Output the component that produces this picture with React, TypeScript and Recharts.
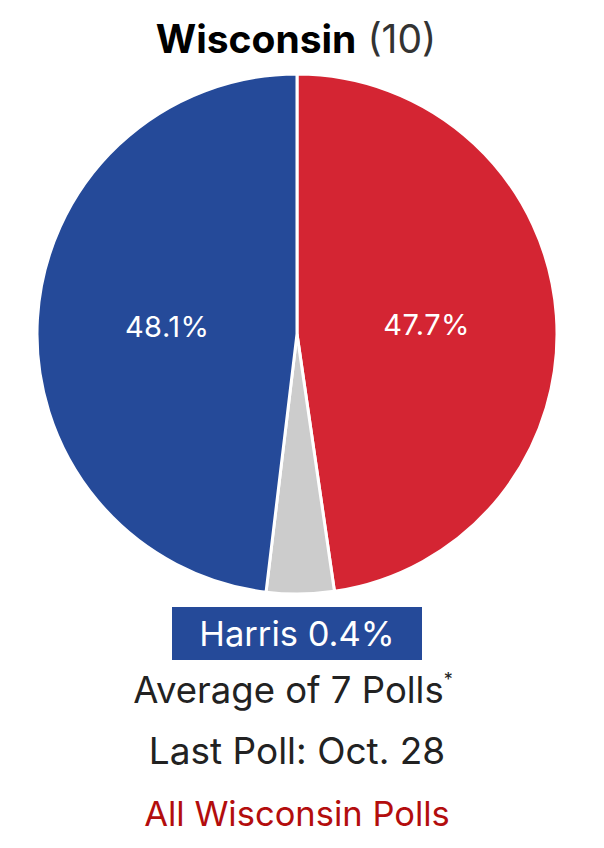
import React from "react"
import { PieChart, Pie, Cell } from "recharts"

const candidates = ["Trump", "Other", "Harris"]
const shares = [47.7, 4.2, 48.1]
const sliceColors = ["#d42533", "#cccccc", "#254a99"]
const sliceLabels = ["47.7%", "", "48.1%"]

const stateName = "Wisconsin"
const electoralVotes = 10
const leadText = "Harris 0.4%"
const pollCount = 7
const lastPoll = "Oct. 28"

const data = candidates.map((name, i) => ({ name, value: shares[i] }))

const font = "Inter, 'Liberation Sans', Arial, sans-serif"

const renderLabel = ({ cx, cy, midAngle, innerRadius, outerRadius, index }: any) => {
  const label = sliceLabels[index]
  if (!label) return null
  const r = innerRadius + (outerRadius - innerRadius) * 0.5
  const x = cx + r * Math.cos((-midAngle * Math.PI) / 180)
  const y = cy + r * Math.sin((-midAngle * Math.PI) / 180)
  return (
    <text
      x={x}
      y={y}
      fill="#ffffff"
      fontSize={29}
      fontFamily={font}
      textAnchor="middle"
      dominantBaseline="central"
      letterSpacing={0.5}
    >
      {label}
    </text>
  )
}

export default function App() {
  return (
    <div style={{ position: "absolute", top: 0, left: 0, width: 604, height: 848, background: "#fff" }}>
      <div style={{ position: "absolute", top: 0, left: 0 }}>
        <PieChart width={604} height={620} margin={{ top: 0, right: 0, bottom: 0, left: 0 }}>
          <Pie
            data={data}
            dataKey="value"
            cx={297}
            cy={334}
            innerRadius={0}
            outerRadius={260}
            startAngle={90}
            endAngle={-270}
            stroke="#ffffff"
            strokeWidth={3}
            label={renderLabel}
            labelLine={false}
            isAnimationActive={false}
          >
            {data.map((_, i) => (
              <Cell key={`cell-${i}`} fill={sliceColors[i]} />
            ))}
          </Pie>
        </PieChart>
      </div>
      <svg
        width={604}
        height={848}
        style={{ position: "absolute", top: 0, left: 0, pointerEvents: "none" }}
        fontFamily={font}
      >
        <text x={296} y={53} textAnchor="middle" fontSize={39} fill="#333">
          <tspan fontWeight="bold" fill="#000">{stateName}</tspan> ({electoralVotes})
        </text>
        <rect x={172} y={607} width={250} height={53} fill="#254a99" />
        <text x={297} y={646} textAnchor="middle" fontSize={34.5} fill="#fff">
          {leadText}
        </text>
        <text x={293} y={703} textAnchor="middle" fontSize={36.5} fill="#222">
          Average of {pollCount} Polls
          <tspan fontSize={18} dy={-17}>*</tspan>
        </text>
        <text x={297} y={764} textAnchor="middle" fontSize={37} fill="#222">
          Last Poll: {lastPoll}
        </text>
        <text x={297} y={826} textAnchor="middle" fontSize={34.5} fill="#b30d0d">
          All {stateName} Polls
        </text>
      </svg>
    </div>
  )
}
